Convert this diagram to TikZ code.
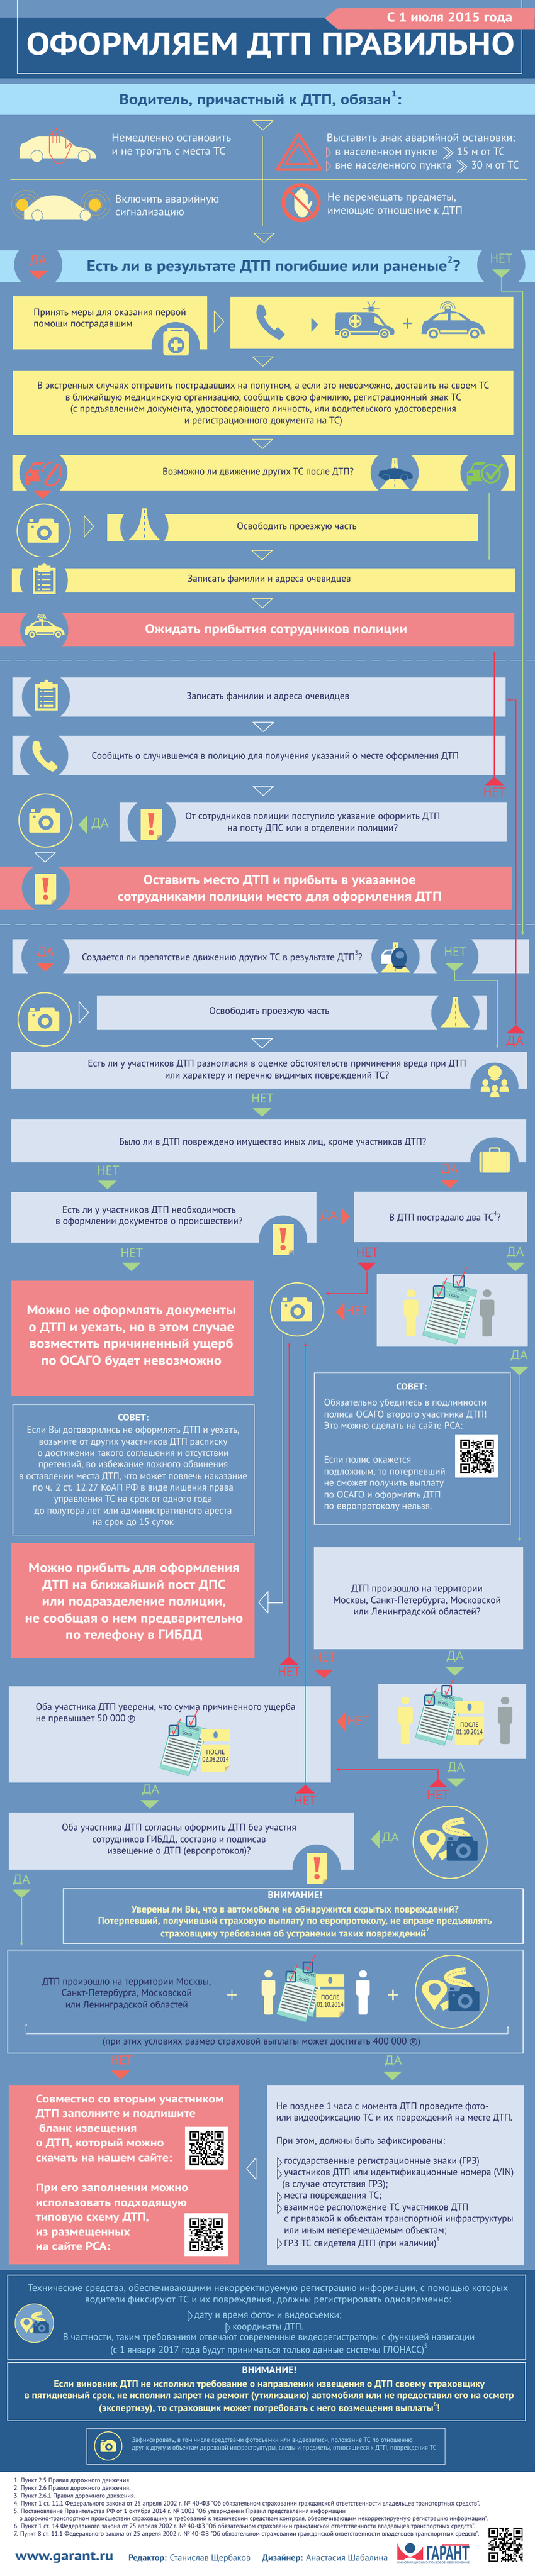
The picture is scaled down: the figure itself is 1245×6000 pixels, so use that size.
\documentclass[tikz,border=0pt]{standalone}
\usepackage{fontspec}
\setmainfont{PT Sans}
\newfontfamily\djf{DejaVu Sans}
\usetikzlibrary{arrows.meta}
\definecolor{bgm}{HTML}{6A94BF}
\definecolor{dkb}{HTML}{285B8E}
\definecolor{cyb}{HTML}{A7DEF8}
\definecolor{ylw}{HTML}{FBF18E}
\definecolor{crm}{HTML}{FDF6BE}
\definecolor{pnk}{HTML}{F08689}
\definecolor{pal}{HTML}{D8E2F1}
\definecolor{redd}{HTML}{F4685C}
\definecolor{crim}{HTML}{EF3B52}
\definecolor{grn}{HTML}{A9D68C}
\definecolor{grb}{HTML}{8CC850}
\definecolor{ink}{HTML}{25285A}
\definecolor{wht}{HTML}{F6F8FB}
\definecolor{gry}{HTML}{9AA6A8}
\definecolor{teal1}{HTML}{3FB9A6}
\definecolor{gold}{HTML}{C9A95C}
\definecolor{orng}{HTML}{FBCB2F}
\newcommand\fs[2]{\fontsize{#1pt}{#2pt}\selectfont}
\newcommand\up[1]{\raisebox{.55em}{\scalebox{.6}{#1}}}
\newcommand\rubc{\ooalign{\hfil\raisebox{.14em}{\scalebox{.6}{\djf ₽}}\hfil\cr{\djf ○}\cr}}
% fit a block horizontally: target width, sample line, column type, lines
\newcommand\FB[4]{\setbox0=\hbox{#2}\pgfmathsetmacro\ffx{#1/\the\wd0}\scalebox{\ffx}[1]{\begin{tabular}{@{}#3@{}}#4\end{tabular}}}
\newcommand\FO[2]{\FB{#1}{#2}{c}{#2}}
\newcommand\NET{\FO{52}{НЕТ}}
\newcommand\DA{\FO{40}{ДА}}
\tikzset{
 tb/.style={inner sep=0pt,text=ink,font=\fs{22.5}{27}},
 tl/.style={inner sep=0pt,anchor=west,text=ink,font=\fs{22.5}{27}},
 tw/.style={inner sep=0pt,anchor=west,text=wht,font=\fs{25}{31}},
 hb/.style={inner sep=0pt,text=white,font=\bfseries\fs{30}{39}},
 lab/.style={inner sep=0pt,font=\fs{30}{30}},
 gline/.style={draw=grn,line width=2pt},
 cline/.style={draw=crim,line width=2pt},
 tipa/.style={-{Stealth[length=9pt,width=7pt]}},
 outb/.style={draw=pal,line width=1.5pt},
 yring/.style={draw=ylw,line width=2.5pt}
}
\newcommand\TD[4]{\coordinate (#1) at (#2,#3+20);\fill[#4] (#2-22,#3) -- (#2+22,#3) -- (#1) -- cycle;}
\newcommand\TU[4]{\coordinate (#1) at (#2,#3-20);\fill[#4] (#2-22,#3) -- (#2+22,#3) -- (#1) -- cycle;}
\newcommand\TRt[4]{\coordinate (#1) at (#2+20,#3);\fill[#4] (#2,#3-22) -- (#2,#3+22) -- (#1) -- cycle;}
\newcommand\TLt[4]{\coordinate (#1) at (#2-20,#3);\fill[#4] (#2,#3-22) -- (#2,#3+22) -- (#1) -- cycle;}
\newcommand\OD[3]{\draw[#3,line width=1.6pt] (#1-24,#2) -- (#1+24,#2) -- (#1,#2+22) -- cycle;}
\newcommand\ORt[3]{\draw[#3,line width=1.6pt] (#1,#2-25) -- (#1,#2+25) -- (#1+22,#2) -- cycle;}
\newcommand\OLt[3]{\draw[#3,line width=1.6pt] (#1,#2-25) -- (#1,#2+25) -- (#1-22,#2) -- cycle;}
\newcommand\RR[5]{\fill[#5] (#1,#2) rectangle (#3,#4);}
\newcommand\Cut[2]{\fill[bgm] (#1,#2) circle[radius=56];}
\newcommand\Chev[4]{\draw[#4,line width=1pt] (#1,#2-#3/2) -- (#1+#3*.42,#2) -- (#1,#2+#3/2) -- cycle;}
\newcommand\DChev[3]{\draw[#3,line width=1.6pt] (#1,#2-12) -- (#1+16,#2+2) -- (#1,#2+16) (#1+7,#2-12) -- (#1+23,#2+2) -- (#1+7,#2+16);}
\newcommand\IcCam[5]{\begin{scope}[shift={(#1,#2)},scale=#3]
 \fill[#4,rounded corners=2] (-36,-18) -- (-10,-18) -- (-8,-28) -- (24,-28) -- (26,-18) -- (36,-18) -- (36,28) -- (-36,28) -- cycle;
 \fill[#4] (-32,-27) rectangle (-22,-20);
 \fill[#5] (3,5) circle[radius=17];
 \fill[#4] (3,5) circle[radius=9];
 \fill[#5] (-24,-9) circle[radius=3];
\end{scope}}
\newcommand\CamC[2]{\draw[yring] (#1,#2) circle[radius=62];\IcCam{#1-2}{#2}{1}{ylw}{bgm}}
\newcommand\IcClip[2]{\begin{scope}[shift={(#1,#2)}]
 \fill[ylw] (-26,-26) rectangle (26,35);
 \fill[bgm] (-21,-18) rectangle (21,30);
 \fill[ylw] (-14,-31) rectangle (14,-16);
 \fill[ylw] (0,-32) circle[radius=5];
 \foreach \q in {-10,2,14,24}{\fill[ylw] (-15,\q-2) rectangle (-10,\q+2);\fill[ylw] (-6,\q-2) rectangle (15,\q+2);}
\end{scope}}
\newcommand\IcNote[4]{\begin{scope}[shift={(#1,#2)},scale=#3]
 \fill[ylw] (-24.5,-36) rectangle (24.5,36);
 \fill[#4] (24.5,24) -- (24.5,36) -- (13,36) -- cycle;
 \fill[gold!80] (24.5,24) -- (13,36) -- (14,26) -- cycle;
 \fill[redd] (-7.5,-26) -- (7.5,-26) -- (3,8) -- (-3,8) -- cycle;
 \fill[redd] (0,19) circle[radius=6.5];
\end{scope}}
\newcommand\IcRoad[6]{\fill[#5] (#1-#4,#3) .. controls (#1-#4*.3,#3-24) and (#1-7,#2+30) .. (#1-6,#2) -- (#1+6,#2) .. controls (#1+7,#2+30) and (#1+#4*.3,#3-24) .. (#1+#4,#3) -- cycle;
 \draw[#6,line width=1.6pt,dash pattern=on 7pt off 7pt] (#1,#2+4) -- (#1,#3-2);}
\newcommand\IcPhone[4]{\begin{scope}[shift={(#1,#2)},scale=#3]
 \fill[#4,rounded corners=1.5] (-24,-36) .. controls (-38,-10) and (-14,20) .. (19,37) -- (31,26) -- (16,10) -- (9,17) .. controls (-3,8) and (-9,-2) .. (-13,-12) -- (-7,-15) -- (-13,-34) -- cycle;
\end{scope}}
\newcommand\IcPolice[5]{\begin{scope}[shift={(#1,#2)},scale=#3]
 \fill[#4] (-74,26) -- (-72,8) .. controls (-68,-4) .. (-58,-6) .. controls (-45,-22) and (-25,-27) .. (-5,-27) .. controls (15,-27) and (30,-15) .. (42,-4) .. controls (58,-2) and (72,4) .. (74,26) -- cycle;
 \fill[#5] (-47,-6) -- (-32,-20) -- (-12,-22) -- (-12,-6) -- cycle;
 \fill[#5] (-6,-22) -- (10,-22) -- (30,-6) -- (-6,-6) -- cycle;
 \fill[#5] (-30,17) rectangle (32,22);
 \foreach \q in {-46,50}{\fill[#5] (\q,26) circle[radius=15];\fill[#4] (\q,26) circle[radius=11];\fill[#5] (\q,26) circle[radius=6];}
 \fill[#4] (-20,-33) rectangle (-5,-26);
 \foreach \q in {7,12,17}{\draw[#4,line width=1.5pt] (-12.5-\q,-33) .. controls (-12.5-\q,-33-1.3*\q) and (-12.5+\q,-33-1.3*\q) .. (-12.5+\q,-33);}
\end{scope}}
\newcommand\IcPerson[4]{\begin{scope}[shift={(#1,#2)},scale=#3]
 \fill[#4] (0,9) ellipse[x radius=10,y radius=9];
 \fill[#4,rounded corners=4] (-17,24) -- (17,24) -- (17,62) -- (11,62) -- (11,110) -- (-11,110) -- (-11,62) -- (-17,62) -- cycle;
\end{scope}}
\newcommand\OneForm[2]{\begin{scope}[shift={(#1,#2)},rotate=-15]
 \fill[white!85!teal1,draw=teal1,line width=1.3pt] (-35,-50) rectangle (35,50);
 \fill[teal1!55] (-35,-50) rectangle (35,-36);
 \foreach \q in {-24,-17,-10,-3,4,11,18,25,32}{\draw[black!55,line width=2.6pt] (-31,\q) -- (31,\q);}
 \fill[teal1!55] (-35,40) rectangle (35,50);
 \node[inner sep=0,rotate=-15,text=ink,font=\fs{8}{8}] at (6,-43) {ОСАГО};
\end{scope}}
\newcommand\IcCheck[2]{\begin{scope}[shift={(#1,#2)}]
 \draw[dkb,line width=3pt,rounded corners=3] (-11,-12) rectangle (11,12);
 \draw[redd!40!crim,line width=2pt] (-4,0) -- (-1,9) -- (16,-28);
\end{scope}}
\newcommand\IcForm[3]{\begin{scope}[shift={(#1,#2)},scale=#3]
 \OneForm{10}{-8}\OneForm{-6}{4}
 \IcCheck{-20}{-44}\IcCheck{20}{-66}
\end{scope}}
\newcommand\IcAfter[6]{\begin{scope}[shift={(#1,#2)},scale=#3]
 \fill[ylw] (-33,-50) rectangle (33,-21);
 \fill[ylw] (-33,-14) -- (33,-14) -- (33,36) -- (21,50) -- (-33,50) -- cycle;
 \fill[gold!80] (33,36) -- (21,50) -- (22,38) -- cycle;
 \fill[#6] (0,-36) ellipse[x radius=5,y radius=8];
 \node[inner sep=0,text=ink,font=\fs{#4}{#4}] at (0,6) {\FO{43}{ПОСЛЕ}};
 \node[inner sep=0,text=ink,font=\fs{#4}{#4}] at (0,23) {\FO{62}{#5}};
\end{scope}}
\newcommand\IcGeo[3]{\begin{scope}[shift={(#1,#2)},scale=#3]
 \draw[ylw,line width=#3*16pt] (32,-51) .. controls (-20,-45) and (-20,-30) .. (10,-25) .. controls (45,-20) and (50,-5) .. (30,5) -- (-24,35);
 \draw[dkb!60,line width=#3*1.2pt,dash pattern=on 4pt off 3pt] (32,-51) .. controls (-20,-45) and (-20,-30) .. (10,-25) .. controls (45,-20) and (50,-5) .. (30,5);
 \fill[ylw] (-41,42) .. controls (-55,15) and (-70,5) .. (-70,-8) .. controls (-70,-22) and (-57,-29) .. (-41,-29) .. controls (-25,-29) and (-11,-22) .. (-11,-8) .. controls (-11,5) and (-27,15) .. cycle;
 \fill[bgm] (-40,-8) circle[radius=14];
 \IcCam{28}{15}{1}{dkb}{bgm}
\end{scope}}
\newcommand\QR[4]{\begin{scope}[shift={(#1,#2)}]
 \pgfmathsetseed{#4}\pgfmathsetmacro\qrc{#3/25}
 \foreach \i in {0,...,24}{\foreach \j in {0,...,24}{\pgfmathparse{rnd}\ifdim\pgfmathresult pt<.5pt \fill[black] (\i*\qrc,\j*\qrc) rectangle ++(\qrc,\qrc);\fi}}
 \foreach \a/\b in {0/0,17/0,0/17}{
 \fill[white] (\a*\qrc,\b*\qrc) rectangle ++(8*\qrc,8*\qrc);}
 \foreach \a/\b in {0/0,18/0,0/18}{
 \fill[black] (\a*\qrc,\b*\qrc) rectangle ++(7*\qrc,7*\qrc);
 \fill[white] (\a*\qrc+\qrc,\b*\qrc+\qrc) rectangle ++(5*\qrc,5*\qrc);
 \fill[black] (\a*\qrc+2*\qrc,\b*\qrc+2*\qrc) rectangle ++(3*\qrc,3*\qrc);}
\end{scope}}
\newcommand\CarFront[3]{\begin{scope}[shift={(#1,#2)}]
 \fill[#3] (-41,26) -- (-41,-3) -- (-33,-8) -- (-26,-24) -- (-18,-27) -- (12,-27) -- (18,-21) -- (5,25) -- (-2,25) -- (-2,18) -- (-30,18) -- (-30,26) -- cycle;
 \fill[bgm] (-24,-20) -- (-2,-20) -- (0,-9) -- (-29,-9) -- cycle;
 \fill[bgm] (-38,-1) rectangle (-27,6);
\end{scope}}
\begin{document}
\begin{tikzpicture}[x=1pt,y=-1pt,line join=round]
\useasboundingbox (0,0) rectangle (1245,6000);
\fill[bgm] (0,0) rectangle (1245,6000);
% ---- header
\RR{0}{41}{1245}{183}{dkb}
\draw[white,line width=1.6pt] (40,0) -- (40,171) -- (1215,171) -- (1215,0);
\fill[pnk] (756,43) -- (786,19) -- (1245,19) -- (1245,68) -- (786,68) -- cycle;
\node[inner sep=0,text=white,font=\bfseries\fs{31}{31}] (tdate) at (1047,45) {\FO{292}{С 1 июля 2015 года}};
\node[inner sep=0,text=white,font=\bfseries\fs{73}{73}] (ttitle) at (630,113) {\FO{1137}{ОФОРМЛЯЕМ ДТП ПРАВИЛЬНО}};
\RR{0}{196}{1245}{268}{cyb}
\node[inner sep=0,text=dkb,font=\bfseries\fs{33}{33}] (t01) at (606,232) {\FO{657}{Водитель, причастный к ДТП, обязан\up{1}:}};
\OD{612}{281}{ylw}
\draw[ylw!70!grn,line width=1.2pt] (611,318) -- (611,525);
\draw[ylw!70!grn,line width=1.2pt] (24,418) -- (1227,418);
% car 1
\fill[crm] (46,370) -- (46,345) -- (50,335) .. controls (65,332) and (72,318) .. (95,318) -- (140,318) .. controls (160,320) and (168,340) .. (180,342) .. controls (205,345) and (224,350) .. (224,370) -- cycle;
\foreach \q in {86,196}{\fill[crm,draw=bgm,line width=1.2pt] (\q,364) circle[radius=14];}
\begin{scope}[shift={(139,339)}]
\draw[redd,line width=1.8pt,rounded corners=3] (-24,18) -- (-24,-26) -- (-16,-26) -- (-16,-35) -- (-8,-35) -- (-8,-41) -- (0,-41) -- (0,-35) -- (8,-35) -- (8,-24) -- (14,-24) -- (14,8) -- (24,-6) -- (28,-2) -- (14,30) -- (6,41) -- (-10,41) -- cycle;
\foreach \q in {-16,-8,0}{\draw[redd,line width=1.5pt] (\q,-30) -- (\q,-6);}
\end{scope}
\node[tw] (t02) at (260,339) {\FB{278}{Немедленно остановить}{l}{Немедленно остановить\\и не трогать с места ТС}};
% warning triangle
\draw[redd,line width=6pt] (695,312) -- (645,395) -- (748,395) -- cycle;
\draw[redd,line width=4.5pt] (695,335) -- (665,382) -- (727,382) -- cycle;
\node[tw] (t03) at (760,323) {\FO{439}{Выставить знак  аварийной остановки:}};
\Chev{760}{355}{24}{pnk!70!white}
\node[tw] (t04) at (780,355) {\FO{238}{в населенном пункте}};
\DChev{1032}{354}{white}
\node[tw] (t05) at (1064,355) {\FO{111}{15 м от ТС}};
\Chev{760}{387}{24}{pnk!70!white}
\node[tw] (t06) at (780,387) {\FO{272}{вне населенного пункта}};
\DChev{1064}{386}{white}
\node[tw] (t07) at (1097,387) {\FO{111}{30 м от ТС}};
% hazard car
\foreach \q in {61,222}{\foreach \r in {16,25,34}{\draw[gold,line width=1pt] (\q,477) circle[radius=\r];}}
\fill[crm] (56,512) -- (56,490) .. controls (75,478) and (85,455) .. (125,455) .. controls (165,455) and (175,480) .. (206,490) -- (206,512) -- cycle;
\foreach \q in {87,199}{\fill[crm,draw=bgm,line width=1.2pt] (\q,502) circle[radius=13];}
\foreach \q in {52,221}{\fill[orng] (\q,477) circle[radius=14];}
\node[tw] (t08) at (268,481) {\FB{242}{Включить аварийную}{l}{Включить аварийную\\сигнализацию}};
% prohibit
\begin{scope}[shift={(705,472)},scale=.82]\fill[crm,rounded corners=3] (-24,18) -- (-24,-26) -- (-16,-26) -- (-16,-35) -- (-8,-35) -- (-8,-41) -- (0,-41) -- (0,-35) -- (8,-35) -- (8,-24) -- (14,-24) -- (14,8) -- (24,-6) -- (28,-2) -- (14,30) -- (6,41) -- (-10,41) -- cycle;\end{scope}
\draw[redd,line width=9pt] (701,472) circle[radius=41];
\draw[redd,line width=5pt] (672,443) -- (730,501);
\node[tw] (t09) at (762,477) {\FB{300}{Не перемещать предметы,}{l}{Не перемещать предметы,\\имеющие отношение к ДТП}};
\OD{615}{543}{ylw}
% ---- q1
\RR{0}{583}{1245}{656}{cyb}
\Cut{89}{617}\Cut{1167}{617}
\node[inner sep=0,text=dkb,font=\bfseries\fs{36}{36}] (t10) at (637,620) {\FO{870}{Есть ли в результате ДТП погибшие или раненые\up{2}?}};
\node[lab,text=redd] (da1) at (89,610) {\DA};
\TD{tda1}{89}{631}{redd}
\node[lab,text=grn] (ne1) at (1167,606) {\NET};
\TD{tne1}{1167}{627}{grn}
% boxes A B
\RR{30}{690}{482}{813}{ylw}
\Cut{409}{806}
\node[tl] (t11) at (78,743) {\FB{355}{Принять меры для оказания первой}{l}{Принять меры для оказания первой\\помощи пострадавшим}};
\begin{scope}[shift={(410,796)}]
\fill[ylw,rounded corners=6] (-30,-24) rectangle (30,32);
\fill[ylw] (-20,-33) rectangle (20,-20);\fill[bgm] (-13,-28) rectangle (13,-24);
\fill[bgm] (0,8) circle[radius=19];
\fill[ylw] (-13,4) rectangle (13,12);\fill[ylw] (-4,-5) rectangle (4,21);
\end{scope}
\RR{536}{691}{1195}{812}{ylw}
\ORt{499}{749}{ylw}
\IcPhone{629}{750}{1.13}{bgm}
\fill[bgm] (725,740) -- (725,773) -- (741,756) -- cycle;
% ambulance
\begin{scope}
\fill[bgm,rounded corners=4] (782,727) -- (866,727) -- (880,733) -- (900,758) -- (918,766) -- (918,780) -- (780,780) -- cycle;
\fill[ylw] (872,737) -- (880,740) -- (895,760) -- (872,752) -- cycle;
\fill[ylw] (827,748) circle[radius=15];\fill[bgm] (827,748) circle[radius=12];
\fill[ylw] (816,745) rectangle (838,751);\fill[ylw] (824,737) rectangle (830,759);
\fill[ylw] (780,768) rectangle (790,771);
\fill[ylw] (815,770) rectangle (880,774);
\foreach \q in {803,895}{\fill[ylw] (\q,778) circle[radius=13];\fill[bgm] (\q,778) circle[radius=10];\fill[ylw] (\q,778) circle[radius=6];\fill[bgm] (\q,778) circle[radius=3];}
\fill[bgm] (845,716) rectangle (883,719);\fill[bgm] (858,714) rectangle (870,726);
\draw[bgm,line width=2pt] (856,702) -- (861,711) (873,702) -- (867,711);
\end{scope}
\draw[bgm,line width=3.5pt] (949,741) -- (949,765) (938,753) -- (960,753);
\IcPolice{1055}{752}{1}{bgm}{ylw}
\OD{612}{831}{ylw}
\RR{30}{864}{1195}{1013}{ylw}
\node[tb] (t12) at (613,941) {\FB{1052}{В экстренных случаях отправить пострадавших на попутном, а если это невозможно, доставить на своем ТС}{c}{В экстренных случаях отправить пострадавших на попутном, а если это невозможно, доставить на своем ТС\\в ближайшую медицинскую организацию, сообщить свою фамилию, регистрационный знак ТС\\(с предъявлением документа, удостоверяющего личность, или водительского удостоверения\\и регистрационного документа на ТС)}};
\OD{611}{1023}{ylw}
% ---- D
\RR{29}{1060}{1199}{1142}{ylw}
\Cut{101}{1101}\Cut{919}{1101}\Cut{1128}{1101}
\node[tb] (t13) at (601,1100) {\FO{445}{Возможно ли движение других ТС после ДТП?}};
\CarFront{101}{1103}{redd}
\fill[bgm] (118,1103) ellipse[x radius=28,y radius=31];
\draw[redd,line width=4pt] (104,1125) .. controls (125,1145) and (150,1110) .. (139,1085);
\draw[redd,line width=3pt] (99,1100) .. controls (100,1085) and (112,1075) .. (125,1076);
\draw[redd,line width=6pt] (105,1125) -- (135,1080);
\IcRoad{919}{1068}{1139}{35}{ylw}{bgm}
\fill[dkb] (881,1108) -- (884,1097) -- (900,1095) .. controls (908,1088) and (930,1088) .. (940,1097) .. controls (955,1098) and (961,1102) .. (961,1113) -- (955,1115) -- (890,1115) -- cycle;
\foreach \q in {899,941}{\fill[dkb,draw=bgm,line width=.8pt] (\q,1112) circle[radius=8];}
\CarFront{1128}{1103}{grb}
\fill[bgm] (1146,1103) ellipse[x radius=28,y radius=31];
\draw[grb,line width=4pt] (1143,1103) circle[radius=21];
\draw[grb,line width=6pt] (1133,1100) -- (1142,1115) -- (1170,1080);
\TD{tda2}{99}{1142}{redd}
\coordinate (g2a) at (1139,1148);\coordinate (g2b) at (1139,1305);
\draw[gline,tipa] (g2a) -- (g2b);
\CamC{102}{1236}
\ORt{196}{1226}{ylw}
\RR{250}{1197}{1114}{1260}{ylw}
\Cut{336}{1228}
\IcRoad{336}{1184}{1258}{37}{ylw}{bgm}
\node[tb] (t14) at (691,1228) {\FO{279}{Освободить проезжую часть}};
\OD{610}{1282}{ylw}
\RR{28}{1323}{1199}{1380}{ylw}
\Cut{102}{1352}
\IcClip{103}{1348}
\node[tb] (t15) at (627,1350) {\FO{380}{Записать фамилии и адреса очевидцев}};
\OD{611}{1394}{ylw}
\RR{0}{1428}{1197}{1505}{pnk}
\Cut{103}{1467}
\IcPolice{104}{1462}{.63}{ylw}{bgm}
\node[hb] (t16) at (643,1467) {\FO{611}{Ожидать прибытия сотрудников полиции}};
% dashed
\coordinate (d1a) at (0,1538);\coordinate (d1b) at (1245,1538);
\draw[pal,line width=1.5pt,dash pattern=on 24pt off 12pt] (d1a) -- (d1b);
\coordinate (d2a) at (0,2153);\coordinate (d2b) at (1245,2153);
\draw[pal,line width=1.5pt,dash pattern=on 24pt off 12pt] (d2a) -- (d2b);
% ---- pale group
\RR{29}{1578}{1177}{1669}{pal}
\Cut{107}{1623}
\IcClip{108}{1620}
\node[tb] (t17) at (624,1624) {\FO{379}{Записать фамилии и адреса очевидцев}};
\OD{613}{1682}{white}
\RR{29}{1714}{1177}{1805}{pal}
\Cut{103}{1760}
\IcPhone{104}{1761}{1}{ylw}
\node[tb] (t18) at (641,1763) {\FO{855}{Сообщить о случившемся в полицию для получения указаний о месте оформления ДТП}};
\OD{613}{1831}{white}
\RR{278}{1869}{1179}{1961}{pal}
\Cut{353}{1915}
\IcNote{352}{1920}{1}{bgm}
\node[tb] (t19) at (728,1917) {\FB{593}{От сотрудников полиции поступило указание оформить ДТП}{c}{От сотрудников полиции поступило указание оформить ДТП\\на посту ДПС или в отделении полиции?}};
\CamC{106}{1911}
\TLt{tda3}{203}{1921}{grn}
\node[lab,text=grn] (da3) at (233,1922) {\DA};
\OD{105}{1986}{white}
\RR{0}{2018}{1191}{2119}{pnk}
\Cut{107}{2068}
\IcNote{106}{2071}{1}{bgm}
\node[hb] (t20) at (651,2071) {\FB{754}{сотрудниками полиции место для оформления ДТП}{c}{Оставить место ДТП и прибыть в указанное\\сотрудниками полиции место для оформления ДТП}};
% ---- L
\RR{29}{2188}{1231}{2267}{pal}
\Cut{106}{2228}\Cut{921}{2228}\Cut{1058}{2228}
\node[tb] (t21) at (517,2230) {\FO{653}{Создается ли препятствие движению других  ТС в результате ДТП\up{3}?}};
\node[lab,text=redd] (da4) at (106,2222) {\DA};
\TD{tda4}{105}{2243}{redd}
\node[lab,text=grn] (ne4) at (1060,2220) {\NET};
\TD{tne4}{1058}{2243}{grn}
\IcRoad{921}{2195}{2265}{35}{ylw}{bgm}
\fill[white] (887,2245) -- (887,2225) -- (897,2212) -- (929,2210) -- (929,2245) -- cycle;
\fill[bgm] (893,2223) -- (900,2215) -- (912,2214) -- (912,2223) -- cycle;
\fill[dkb] (929,2232) ellipse[x radius=18,y radius=25];
\fill[bgm] (931,2224) ellipse[x radius=10,y radius=9];
\foreach \q in {2236,2243,2250}{\draw[ink,line width=1pt] (914,\q) -- (945,\q);}
\CamC{104}{2374}
\ORt{184}{2358}{white}
\RR{226}{2318}{1133}{2398}{pal}
\Cut{1060}{2360}
\IcRoad{1060}{2322}{2393}{35}{ylw}{bgm}
\node[tb] (t22) at (627,2357) {\FO{280}{Освободить проезжую часть}};
\OD{610}{2419}{white}
\RR{26}{2450}{1227}{2536}{pal}
\Cut{1151}{2531}
\node[tb] (t23) at (645,2493) {\FB{881}{Есть ли у участников ДТП разногласия в оценке обстоятельств причинения вреда при ДТП}{c}{Есть ли у участников ДТП разногласия в оценке обстоятельств причинения вреда при ДТП\\или характеру и перечню видимых повреждений ТС?}};
% people
\begin{scope}
\fill[ylw] (1152,2497) ellipse[x radius=16,y radius=15];
\fill[ylw] (1140,2512) -- (1152,2505) -- (1164,2512) -- (1152,2518) -- cycle;
\foreach \a/\b in {1130/2525,1174/2525,1152/2538}{\fill[ylw] (\a,\b-3) ellipse[x radius=7,y radius=8];\fill[ylw,rounded corners=3] (\a-12,\b+18) -- (\a-8,\b+5) -- (\a+8,\b+5) -- (\a+12,\b+18) -- cycle;}
\end{scope}
\node[lab,text=grn] (ne5) at (611,2562) {\NET};
\TD{tne5}{610}{2581}{grn}
\RR{26}{2607}{1225}{2707}{pal}
\Cut{1151}{2705}
\fill[ylw,rounded corners=5] (1116,2682) rectangle (1187,2731);
\foreach \q in {1123,1180}{\draw[bgm,line width=1.5pt] (\q,2682) -- (\q,2731);}
\draw[ylw,line width=3pt,rounded corners=3] (1140,2682) -- (1140,2674) -- (1163,2674) -- (1163,2682);
\node[tb] (t24) at (635,2661) {\FO{715}{Было ли в ДТП повреждено имущество иных лиц, кроме участников ДТП?}};
\node[lab,text=grn] (ne6) at (252,2730) {\NET};
\TD{tne6}{250}{2750}{grn}
\node[lab,text=redd] (da6) at (1047,2727) {\DA};
\TD{tda6}{1047}{2748}{redd}
\RR{26}{2777}{737}{2894}{pal}
\Cut{659}{2887}
\IcNote{659}{2887}{1}{bgm}
\node[tb] (t25) at (347,2833) {\FB{436}{в оформлении документов о происшествии?}{c}{Есть ли у участников ДТП необходимость\\в оформлении документов о происшествии?}};
\node[lab,text=redd] (da7) at (766,2835) {\DA};
\TRt{tda7}{794}{2834}{redd}
\RR{824}{2776}{1227}{2893}{pal}
\node[tb] (t26) at (1036,2837) {\FO{260}{В ДТП пострадало два ТС\up{4}?}};
\node[lab,text=grn] (ne7) at (307,2922) {\NET};
\TD{tne7}{306}{2941}{grn}
\node[lab,text=crim] (ne8) at (855,2921) {\NET};
\TD{tne8}{854}{2941}{crim}
\node[lab,text=grn] (da8) at (1200,2920) {\DA};
\TD{tda8}{1200}{2941}{grn}
% R box
\RR{877}{2968}{1229}{3137}{pal}
\IcPerson{957}{3003}{1}{ylw}
\IcPerson{1134}{3003}{1}{gry}
\IcForm{1045}{3060}{1.15}
% S
\RR{26}{2983}{591}{3251}{pnk}
\node[hb] (t27) at (306,3113) {\FB{487}{Можно не оформлять документы}{c}{Можно не оформлять документы\\о ДТП и уехать, но в этом случае\\возместить причиненный ущерб\\по ОСАГО будет невозможно}};
\CamC{692}{3050}
\coordinate (c8b) at (758,3013);
\draw[cline,tipa] (tne8) |- (c8b);
\TLt{tne9t}{802}{3056}{redd}
\node[lab,text=redd] (ne9) at (831,3057) {\NET};
% white connector
\coordinate (w1) at (658,3108);\coordinate (w2) at (624,3733);
\draw[white,line width=1.6pt] (w1) |- (w2);
\OLt{624}{3732}{white}
% СОВЕТ 1
\draw[outb] (30,3272) rectangle (592,3575);
\node[inner sep=0,text=wht,font=\bfseries\fs{21}{21}] (t28) at (310,3305) {\FO{72}{СОВЕТ:}};
\node[tb,text=wht,font=\fs{22.5}{26.8}] (t29) at (310,3440) {\FB{532}{в оставлении места ДТП, что может повлечь наказание}{c}{Если Вы договорились не оформлять ДТП и уехать,\\возьмите от других участников ДТП расписку\\о достижении такого соглашения и отсутствии\\претензий, во избежание ложного обвинения\\в оставлении места ДТП, что может повлечь наказание\\по ч. 2 ст. 12.27 КоАП РФ в виде лишения права\\управления ТС на срок от одного года\\до полутора лет или административного ареста\\на срок до 15 суток}};
% СОВЕТ 2
\draw[outb] (732,3197) rectangle (1189,3551);
\node[inner sep=0,text=wht,font=\bfseries\fs{21}{21}] (t30) at (958,3233) {\FO{71}{СОВЕТ:}};
\node[tl,text=wht] (t31) at (754,3296) {\FB{379}{Обязательно убедитесь в подлинности}{l}{Обязательно убедитесь в подлинности\\полиса ОСАГО второго участника ДТП!\\Это можно сделать на сайте РСА:}};
\RR{1060}{3341}{1160}{3442}{white}
\QR{1072}{3353}{78}{11}
\node[tl,text=wht] (t32) at (754,3456) {\FB{283}{подложным, то потерпевший}{l}{Если полис окажется\\подложным, то потерпевший\\не сможет получить выплату\\по ОСАГО и оформлять ДТП\\по европротоколу нельзя.}};
\node[lab,text=grn] (da10) at (1209,3160) {\DA};
\TD{tda10}{1209}{3183}{grn}
\coordinate (g10) at (1209,3590);
\draw[gline,tipa] (tda10) -- (g10);
% V
\RR{26}{3594}{593}{3861}{pnk}
\node[hb] (t33) at (312,3732) {\FB{508}{не сообщая о нем предварительно}{c}{Можно прибыть для оформления\\ДТП на ближайший пост ДПС\\или подразделение полиции,\\не сообщая о нем предварительно\\по телефону в ГИБДД}};
\RR{731}{3604}{1218}{3841}{pal}
\node[tb] (t34) at (971,3729) {\FB{391}{Москвы, Санкт-Петербурга, Московской}{c}{ДТП произошло на территории\\Москвы, Санкт-Петербурга, Московской\\или Ленинградской областей?}};
\node[lab,text=redd] (ne11) at (756,3865) {\NET};
\TD{tne11}{754}{3889}{crim!60!redd}
\node[lab,text=grn] (da11) at (1060,3861) {\DA};
\TD{tda11}{1059}{3883}{grn}
% X
\RR{20}{3928}{770}{4152}{pal}
\node[tl] (t35) at (83,3991) {\FB{605}{Оба участника ДТП уверены, что сумма причиненного ущерба}{l}{Оба участника ДТП уверены, что сумма причиненного ущерба\\не превышает 50 000\,\rubc}};
\IcForm{425}{4075}{1}
\IcAfter{502}{4077}{1}{15.5}{02.08.2014}{bgm}
% Y
\RR{881}{3921}{1225}{4097}{pal}
\IcPerson{944}{3952}{1}{ylw}
\IcPerson{1176}{3952}{1}{gry}
\IcForm{1020}{4004}{1}
\IcAfter{1093}{4013}{1.03}{15.5}{01.10.2014}{bgm}
\TLt{tne12t}{804}{4010}{redd}
\node[lab,text=redd] (ne12) at (834,4012) {\NET};
% crimson connectors
\TU{tup1}{1151}{1829}{crim}
\coordinate (u1) at (1151,1517);
\draw[cline,tipa] (tup1) -- (u1);
\node[lab,text=crim!70!redd] (ne2) at (1151,1850) {\NET};
\TU{tup2}{1201}{2407}{crim}
\coordinate (u2) at (1181,1630);
\draw[cline,tipa] (tup2) |- (u2);
\node[lab,text=crim!70!redd] (da2) at (1199,2428) {\DA};
\coordinate (g1e) at (1217,2178);\coordinate (g1a) at (1217,678);
\draw[gline,tipa] (tne1) |- (g1a) -- (g1e);
\coordinate (g4a) at (1158,2284);\coordinate (g4b) at (1158,2442);
\draw[gline,tipa] (tne4) |- (g4a) -- (g4b);
\TU{tup3}{673}{3878}{crim}
\coordinate (u3) at (673,3127);
\draw[cline,tipa] (tup3) -- (u3);
\node[lab,text=crim!70!redd] (ne13) at (673,3898) {\NET};
\TU{tup4}{711}{4177}{crim}
\coordinate (u4) at (711,3127);
\draw[cline,tipa] (tup4) -- (u4);
\node[lab,text=crim!70!redd] (ne14) at (711,4198) {\NET};
\TU{tup5}{1020}{4163}{crim}
\coordinate (u5) at (782,4122);
\draw[cline,tipa] (tup5) |- (u5);
\node[lab,text=crim!70!redd] (ne15) at (1020,4185) {\NET};
\node[lab,text=grn] (da15) at (1062,4120) {\DA};
\TD{tda15}{1062}{4142}{grn}
\node[lab,text=grn] (da16) at (351,4171) {\DA};
\TD{tda16}{349}{4193}{grn}
% Z
\RR{20}{4221}{824}{4355}{pal}
\Cut{737}{4352}
\IcNote{738}{4352}{1}{bgm}
\node[tb] (t36) at (417,4286) {\FB{546}{Оба участника ДТП согласны оформить ДТП без участия}{c}{Оба участника ДТП согласны оформить ДТП без участия\\сотрудников ГИБДД, составив и подписав\\извещение о ДТП (европротокол)?}};
\draw[yring] (1048,4291) ellipse[x radius=86,y radius=84];
\IcGeo{1048}{4291}{1}
\TLt{tda17}{884}{4284}{grn}
\node[lab,text=grn] (da17) at (909,4283) {\DA};
\node[lab,text=grn] (da18) at (50,4382) {\DA};
\TD{tda18}{50}{4401}{grn}
\coordinate (g18) at (50,4533);
\draw[gline,tipa] (tda18) -- (g18);
% AA
\draw[outb,draw=white] (147,4399) rectangle (1218,4527);
\node[inner sep=0,text=white,font=\bfseries\fs{22.5}{22.5}] (t37) at (687,4417) {\FO{127}{ВНИМАНИЕ!}};
\node[tb,text=crm,font=\bfseries\fs{22.5}{27}] (t38) at (687,4478) {\FB{917}{Потерпевший, получивший страховую выплату по европротоколу, не вправе предъявлять}{c}{Уверены ли Вы, что в автомобиле не обнаружится скрытых повреждений?\\Потерпевший, получивший страховую выплату по европротоколу, не вправе предъявлять\\страховщику требования об устранении таких повреждений\up{7}}};
% BB
\draw[pal,line width=3pt] (18,4542) rectangle (1218,4782);
\node[tb] (t39) at (295,4644) {\FB{393}{ДТП произошло на территории Москвы,}{c}{ДТП произошло на территории Москвы,\\Санкт-Петербурга, Московской\\или Ленинградской областей}};
\draw[crm,line width=2.5pt] (540,4634) -- (540,4658) (529,4646) -- (551,4646);
\draw[crm,line width=2.5pt] (915,4634) -- (915,4658) (904,4646) -- (926,4646);
\IcPerson{625}{4589}{.94}{crm}
\IcForm{697}{4648}{1}
\IcAfter{769}{4648}{1}{15.5}{01.10.2014}{bgm}
\IcPerson{845}{4589}{.94}{white}
\draw[yring] (1052,4639) circle[radius=85];
\IcGeo{1052}{4641}{1}
\coordinate (br1) at (61,4717);\coordinate (br2) at (1183,4722);\coordinate (br3) at (61,4737);
\draw[white,line width=1.4pt] (br1) -- (br3) -| (br2);
\fill[white] (br1) circle[radius=2];\fill[white] (br2) circle[radius=2];
\node[tb] (t40) at (609,4757) {\FO{740}{(при этих условиях размер страховой выплаты может достигать 400 000 \rubc)}};
\node[lab,text=redd] (ne20) at (283,4803) {\NET};
\TD{tne20}{281}{4823}{redd}
\node[lab,text=grn] (da20) at (916,4803) {\DA};
\TD{tda20}{914}{4825}{grn}
% CC
\RR{20}{4857}{557}{5274}{pnk}
\node[inner sep=0,anchor=west,text=white,font=\bfseries\fs{26}{34.3}] (t41) at (83,4959) {\FB{438}{Совместно со вторым участником}{l}{Совместно со вторым участником\\ДТП заполните и подпишите\\\hspace{7pt}бланк извещения\\о ДТП, который можно\\скачать на нашем сайте:}};
\node[inner sep=0,anchor=west,text=white,font=\bfseries\fs{26}{34.3}] (t42) at (83,5166) {\FB{352}{использовать подходящую}{l}{При его заполнении можно\\использовать подходящую\\типовую схему ДТП,\\из размещенных\\на сайте РСА:}};
\RR{431}{4953}{530}{5053}{white}
\QR{441}{4963}{80}{23}
\RR{430}{5155}{530}{5255}{white}
\QR{442}{5167}{76}{37}
% DD
\RR{622}{4857}{1220}{5276}{pal}
\OLt{596}{5051}{white}
\node[tl] (t43) at (643,4921) {\FB{550}{или видеофиксацию ТС и их повреждений на месте ДТП.}{l}{Не позднее 1 часа с момента ДТП проведите фото-\\или видеофиксацию ТС и их повреждений на месте ДТП.}};
\node[tl] (t44) at (643,4988) {\FO{393}{При этом, должны быть зафиксированы:}};
\node[tl] (t45) at (661,5131) {\FB{535}{участников ДТП или идентификационные номера (VIN)}{l}{государственные регистрационные знаки (ГРЗ)\\участников ДТП или идентификационные номера (VIN)\\\hspace{-4pt}(в случае отсутствия ГРЗ);\\места повреждения ТС;\\взаимное расположение ТС участников ДТП\\с привязкой к объектам транспортной инфраструктуры\\или иным неперемещаемым объектам;\\ГРЗ ТС свидетеля ДТП (при наличии)\up{5}}};
\foreach \q in {5037,5064,5118,5145,5226}{\Chev{646}{\q}{24}{ink}}
% footer dark
\RR{0}{5287}{1245}{5757}{dkb}
\draw[pal,line width=1.5pt] (18,5299) rectangle (1224,5495);
\node[tb,text=cyb,font=\fs{22.5}{27}] (t46) at (624,5345) {\FB{1118}{Технические средства, обеспечивающими некорректируемую регистрацию информации, с помощью которых}{c}{Технические средства, обеспечивающими некорректируемую регистрацию информации, с помощью которых\\водители фиксируют ТС и их повреждения, должны регистрировать одновременно:}};
\node[tb,text=cyb] (t47) at (624,5394) {\FO{343}{дату и время фото- и видеосъемки;}};
\node[tb,text=cyb] (t48) at (624,5422) {\FO{165}{координаты ДТП.}};
\Chev{438}{5394}{24}{cyb}
\Chev{526}{5422}{24}{cyb}
\node[tb,text=cyb] (t49) at (626,5461) {\FB{959}{В частности, таким требованиям отвечают современные видеорегистраторы с функцией навигации}{c}{В частности, таким требованиям отвечают современные видеорегистраторы с функцией навигации\\(с 1 января 2017 года будут приниматься только данные системы ГЛОНАСС)\up{5}}};
\fill[bgm!85!cyb,draw=ylw,line width=1.6pt] (80,5411) ellipse[x radius=45,y radius=45];
\IcGeo{82}{5413}{.5}
\draw[white,line width=1.5pt] (18,5502) rectangle (1223,5638);
\node[inner sep=0,text=white,font=\bfseries\fs{22.5}{22.5}] (t50) at (627,5523) {\FO{127}{ВНИМАНИЕ!}};
\node[tb,text=crm,font=\bfseries\fs{22.5}{26.7}] (t51) at (627,5583) {\FB{1140}{в пятидневный срок, не исполнил запрет на ремонт (утилизацию) автомобиля или не предоставил его на осмотр}{c}{Если виновник ДТП не исполнил требование о направлении извещения о ДТП своему страховщику\\в пятидневный срок, не исполнил запрет на ремонт (утилизацию) автомобиля или не предоставил его на осмотр\\(экспертизу), то страховщик может потребовать с него возмещения выплаты\up{6}!}};
\draw[pal,line width=1.8pt] (202,5656) rectangle (1036,5740);
\draw[ylw,line width=2pt] (252,5697) ellipse[x radius=32,y radius=33];
\IcCam{252}{5697}{.5}{ylw}{dkb}
\node[tl,text=cyb!85!white,font=\fs{16}{18}] (t52) at (307,5694) {\FB{709}{друг к другу и объектам дорожной инфраструктуры, следы и предметы, относящиеся к ДТП, повреждения ТС}{l}{Зафиксировать, в том числе средствами фотосъемки или видеозаписи, положение ТС по отношению\\друг к другу и объектам дорожной инфраструктуры, следы и предметы, относящиеся к ДТП, повреждения ТС}};
% footer white
\RR{0}{5757}{1245}{6000}{white}
\node[tl,text=ink!80!black,font=\fs{15}{17.95}] (t53) at (32,5841) {\FB{1085}{4. Пункт 1 ст. 11.1 Федерального закона от 25 апреля 2002 г. № 40-ФЗ "Об обязательном страховании гражданской ответственности владельцев транспортных средств".}{l}{1. Пункт 2.5 Правил дорожного движения.\\2. Пункт 2.6 Правил дорожного движения.\\3. Пункт 2.6.1 Правил дорожного движения.\\4. Пункт 1 ст. 11.1 Федерального закона от 25 апреля 2002 г. № 40-ФЗ "Об обязательном страховании гражданской ответственности владельцев транспортных средств".\\5. Постановление Правительства РФ от 1 октября 2014 г. № 1002 "Об утверждении Правил представления информации\\\hspace{13pt}о дорожно-транспортном происшествии страховщику и требований к техническим средствам контроля, обеспечивающим некорректируемую регистрацию информации".\\6. Пункт 1 ст. 14 Федерального закона от 25 апреля 2002 г. № 40-ФЗ "Об обязательном страховании гражданской ответственности владельцев транспортных средств".\\7. Пункт 8 ст. 11.1 Федерального закона от 25 апреля 2002 г. № 40-ФЗ "Об обязательном страховании гражданской ответственности владельцев транспортных средств".}};
\QR{1137}{5887}{80}{51}
\node[inner sep=0,anchor=west,text=dkb,font=\bfseries\fs{30}{30}] (t54) at (36,5957) {\FO{228}{www.garant.ru}};
\node[inner sep=0,anchor=west,text=dkb,font=\fs{21}{21}] (t55) at (299,5960) {\FO{284}{\textbf{Редактор:} Станислав Щербаков}};
\node[inner sep=0,anchor=west,text=dkb,font=\fs{21}{21}] (t56) at (610,5960) {\FO{293}{\textbf{Дизайнер:} Анастасия Шабалина}};
% logo
\fill[dkb] (955,5935) ellipse[x radius=12,y radius=12];
\fill[crim] (925,5923) .. controls (932,5945) and (945,5952) .. (955,5955) .. controls (965,5952) and (978,5945) .. (985,5932) -- (985,5962) -- (970,5962) .. controls (965,5955) and (945,5955) .. (940,5962) -- (925,5962) -- cycle;
\fill[crim] (1030,5925) rectangle (1092,5929);
\node[inner sep=0,anchor=west,text=dkb] (t57) at (993,5946) {\resizebox{100pt}{32pt}{\bfseries ГАРАНТ}};
\node[inner sep=0,anchor=center,text=dkb] (t58) at (1009,5969) {\resizebox{169pt}{!}{\fs{11}{11}ИНФОРМАЦИОННО-ПРАВОВОЕ ОБЕСПЕЧЕНИЕ}};
\end{tikzpicture}
\end{document}
